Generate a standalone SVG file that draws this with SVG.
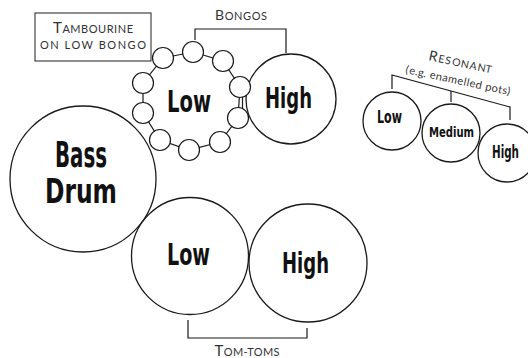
<svg xmlns="http://www.w3.org/2000/svg" width="528" height="358" viewBox="0 0 528 358">
<style>
.drum{fill:#fff;stroke:#1a1a1a;stroke-width:1.3}
.tamb{fill:#fff;stroke:#1a1a1a;stroke-width:1.2}
.ln{fill:none;stroke:#1a1a1a;stroke-width:1.2}
.hw{font-family:"DejaVu Sans Condensed","DejaVu Sans",sans-serif;font-weight:bold;fill:#111}
.lab{font-family:Lato,"Open Sans",sans-serif;fill:#333}
</style>
<rect width="528" height="358" fill="#fff"/>
<g id="connectors">
<polyline class="ln" points="195,40 195,29 286,29 286,53"/>
<polyline class="ln" points="188,320 188,338 307,338 307,328"/>
<polyline class="ln" points="392,89 392,75 510,107 510,120"/>
<line class="ln" x1="451" y1="91" x2="451" y2="102"/>
</g>
<g id="tambourine-label">
<rect x="35" y="13" width="116" height="48" fill="#fff" stroke="#333" stroke-width="1.1"/>
<text class="lab" x="93" y="33" text-anchor="middle" textLength="80" lengthAdjust="spacing"><tspan font-size="15">T</tspan><tspan font-size="11">AMBOURINE</tspan></text>
<text class="lab" x="93" y="49" text-anchor="middle" font-size="11" textLength="106" lengthAdjust="spacing">ON LOW BONGO</text>
</g>
<g id="bongos-label">
<text class="lab" x="241" y="20" text-anchor="middle" textLength="52" lengthAdjust="spacing"><tspan font-size="14">B</tspan><tspan font-size="11">ONGOS</tspan></text>
</g>
<g id="bass-drum">
<circle class="drum" cx="83" cy="179" r="73"/>
<text class="hw" x="55" y="167" font-size="36" textLength="52" lengthAdjust="spacingAndGlyphs">Bass</text>
<text class="hw" x="45" y="203" font-size="34" textLength="72" lengthAdjust="spacingAndGlyphs">Drum</text>
</g>
<g id="bongo-high">
<circle class="drum" cx="291" cy="99" r="45"/>
<text class="hw" x="265" y="108" font-size="29" textLength="47" lengthAdjust="spacingAndGlyphs">High</text>
</g>
<g id="bongo-low">
<polygon class="ln" points="193,52 223,61 240,87 238,118 220,142 189,150 160,140 143,113 143,83 163,58"/>
<line class="ln" x1="242.5" y1="97" x2="242.5" y2="108"/>
<circle class="tamb" cx="193" cy="52" r="10.5"/>
<circle class="tamb" cx="223" cy="61" r="10.5"/>
<circle class="tamb" cx="240" cy="87" r="10.5"/>
<circle class="tamb" cx="238" cy="118" r="10.5"/>
<circle class="tamb" cx="220" cy="142" r="10.5"/>
<circle class="tamb" cx="189" cy="150" r="10.5"/>
<circle class="tamb" cx="160" cy="140" r="10.5"/>
<circle class="tamb" cx="143" cy="113" r="10.5"/>
<circle class="tamb" cx="143" cy="83" r="10.5"/>
<circle class="tamb" cx="163" cy="58" r="10.5"/>
<text class="hw" x="167" y="112" font-size="30" textLength="44" lengthAdjust="spacingAndGlyphs">Low</text>
</g>
<g id="tom-low">
<circle class="drum" cx="190" cy="256" r="58.5"/>
<text class="hw" x="167" y="265" font-size="30" textLength="43" lengthAdjust="spacingAndGlyphs">Low</text>
</g>
<g id="tom-high">
<circle class="drum" cx="308" cy="263" r="59"/>
<text class="hw" x="282" y="273" font-size="29" textLength="47" lengthAdjust="spacingAndGlyphs">High</text>
</g>
<g id="tomtoms-label">
<text class="lab" x="247" y="356" text-anchor="middle" textLength="65" lengthAdjust="spacing"><tspan font-size="15">T</tspan><tspan font-size="11">OM-TOMS</tspan></text>
</g>
<g id="resonant-label">
<text class="lab"><tspan font-size="14" x="428" y="60" rotate="12">R</tspan><tspan font-size="10.5" x="437.8 444.6 451.5 460.3 469.1 476.9 484.7" y="62.1 63.5 65.0 66.9 68.7 70.4 72.1" rotate="12">ESONANT</tspan></text>
<text class="lab" font-size="11" x="405 408.7 414.7 417.5 423.1 425.9 429.2 435.2 441.7 447.4 456.8 462.9 465.9 468.9 475.0 481.4 484.7 491.1 497.6 501.8 506.6" y="73 73.8 75.1 75.7 76.9 77.4 78.1 79.4 80.8 82.0 84.0 85.3 86.0 86.6 87.9 89.3 89.9 91.3 92.7 93.6 94.6" rotate="12">(e.g. enamelled pots)</text>
</g>
<g id="resonant-low">
<circle class="drum" cx="392" cy="121" r="29"/>
<text class="hw" x="377" y="123" font-size="18" textLength="25" lengthAdjust="spacingAndGlyphs">Low</text>
</g>
<g id="resonant-medium">
<circle class="drum" cx="451" cy="133" r="29"/>
<text class="hw" x="429" y="137" font-size="14" textLength="45" lengthAdjust="spacingAndGlyphs">Medium</text>
</g>
<g id="resonant-high">
<circle class="drum" cx="507" cy="153" r="29"/>
<text class="hw" x="492" y="158" font-size="17" textLength="27" lengthAdjust="spacingAndGlyphs">High</text>
</g>
</svg>
